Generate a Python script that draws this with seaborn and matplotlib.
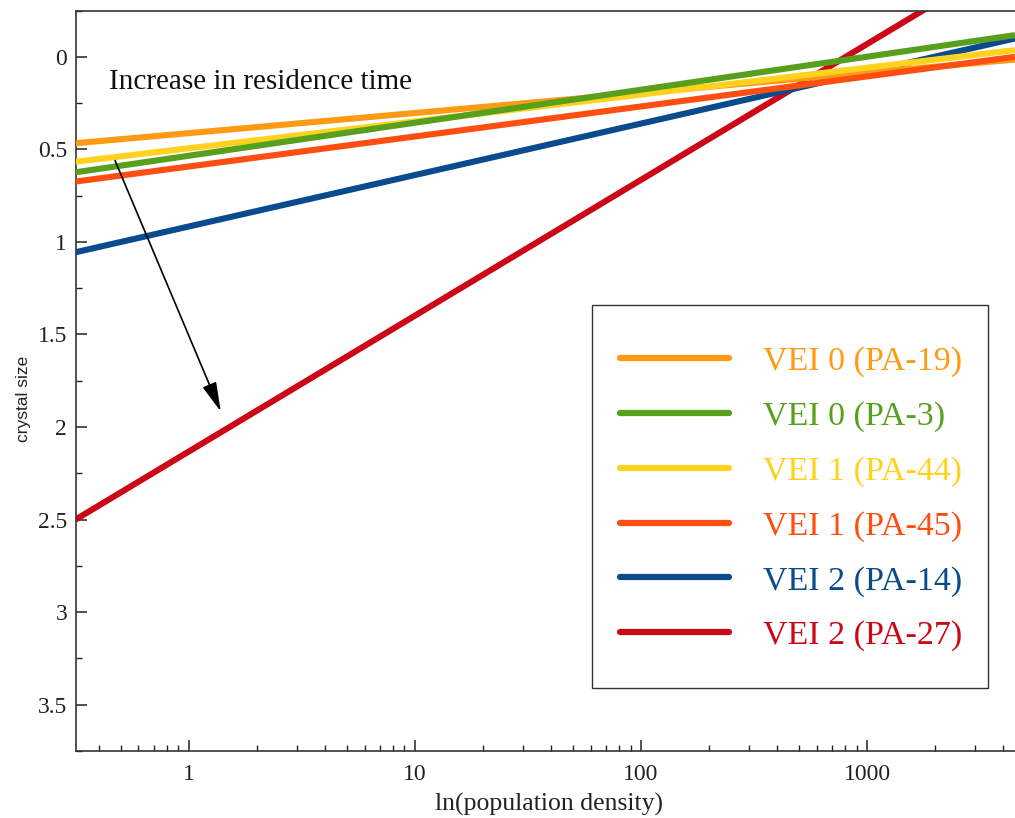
import numpy as np
import pandas as pd
import matplotlib
matplotlib.use("Agg")
import matplotlib.pyplot as plt
import matplotlib.ticker as mticker
from matplotlib.lines import Line2D
from matplotlib.patches import Rectangle
import seaborn as sns

# ---- data ----
density = [0.3162, 4500.0]
labels = ["VEI 0 (PA-19)", "VEI 0 (PA-3)", "VEI 1 (PA-44)",
          "VEI 1 (PA-45)", "VEI 2 (PA-14)", "VEI 2 (PA-27)"]
pa19 = [0.467, 0.015]
pa3 = [0.624, -0.117]
pa44 = [0.567, -0.036]
pa45 = [0.674, 0.000]
pa14 = [1.056, -0.099]
pa27 = [2.500, -0.549]
colors = ["#FF9A14", "#58A01C", "#FFD21F", "#FF4E12", "#0A4B8E", "#CC0716"]
draw_order = ["VEI 2 (PA-27)", "VEI 2 (PA-14)", "VEI 0 (PA-19)",
              "VEI 1 (PA-45)", "VEI 1 (PA-44)", "VEI 0 (PA-3)"]

series = dict(zip(labels, [pa19, pa3, pa44, pa45, pa14, pa27]))
df = pd.concat([pd.DataFrame({"density": density, "size": series[l], "sample": l})
                for l in labels], ignore_index=True)
palette = dict(zip(labels, colors))

sns.set_style("ticks")
plt.rcParams["font.family"] = ["Liberation Serif", "DejaVu Serif"]

fig = plt.figure(figsize=(10.15, 8.18), dpi=100)
ax = fig.add_axes([75.5 / 1015, 1 - 751 / 818, (1015 - 75.5) / 1015, (751 - 10.5) / 818])

for z, lab in enumerate(draw_order):
    sub = df[df["sample"] == lab]
    sns.lineplot(data=sub, x="density", y="size", color=palette[lab], lw=4.4,
                 ax=ax, zorder=2 + z, solid_capstyle="butt", legend=False)

ax.set_xscale("log")
ax.set_xlim(10 ** -0.5, 4500)
ax.set_ylim(3.75, -0.25)

ax.yaxis.set_major_locator(mticker.MultipleLocator(0.5))
ax.yaxis.set_minor_locator(mticker.MultipleLocator(0.25))
ax.yaxis.set_major_formatter(mticker.FuncFormatter(lambda v, p: f"{v:g}"))
ax.xaxis.set_major_locator(mticker.LogLocator(base=10, numticks=10))
ax.xaxis.set_minor_locator(mticker.LogLocator(base=10, subs=np.arange(2, 10), numticks=20))
ax.xaxis.set_major_formatter(mticker.FuncFormatter(lambda v, p: f"{v:g}"))
ax.xaxis.set_minor_formatter(mticker.NullFormatter())

ax.tick_params(which="major", direction="in", length=8, width=1.1, labelsize=17,
               colors="#222222", pad=6)
ax.tick_params(which="minor", direction="in", length=4.5, width=1.0, colors="#222222")
ax.tick_params(axis="x", which="major", pad=9)

for side in ["left", "bottom", "top"]:
    ax.spines[side].set_linewidth(1.2)
    ax.spines[side].set_color("#333333")
ax.spines["right"].set_visible(False)

ax.set_xlabel("ln(population density)", fontsize=18.5, color="#222222")
ax.xaxis.set_label_coords(0.504, -0.0565)
ax.set_ylabel("crystal size", fontsize=12.5, color="#222222",
              family=["Liberation Sans", "DejaVu Sans"])
ax.yaxis.set_label_coords(-0.0474, 0.4754)
ax.set_facecolor("white")

ax.text(0.443, 0.176, "Increase in residence time", fontsize=21, color="#111111",
        ha="left", va="baseline")
ax.annotate("", xy=(1.387, 1.916), xytext=(0.473, 0.561),
            arrowprops=dict(arrowstyle="-|>,head_length=1.8,head_width=0.45",
                            color="black", lw=1.2, shrinkA=0, shrinkB=0),
            zorder=20)

# legend frame
frame = Rectangle((592 / 1015, 1 - 688 / 818), (988 - 592) / 1015, (688 - 305) / 818,
                  transform=fig.transFigure, facecolor="white", edgecolor="#333333",
                  lw=1.0, zorder=25, clip_on=False)
ax.add_patch(frame)

leg_handles = [Line2D([0], [0], color=palette[lab], lw=4.5, solid_capstyle="round")
               for lab in labels]
leg = ax.legend(leg_handles, labels, loc="upper left",
                bbox_to_anchor=(620 / 1015, 1 - 346 / 818), bbox_transform=fig.transFigure,
                borderaxespad=0, borderpad=0, fontsize=24.5, frameon=False,
                handlelength=3.2, handletextpad=1.0,
                labelspacing=0.7, labelcolor="linecolor")
leg.set_zorder(30)

fig.savefig("out.png", dpi=100, facecolor="white")
